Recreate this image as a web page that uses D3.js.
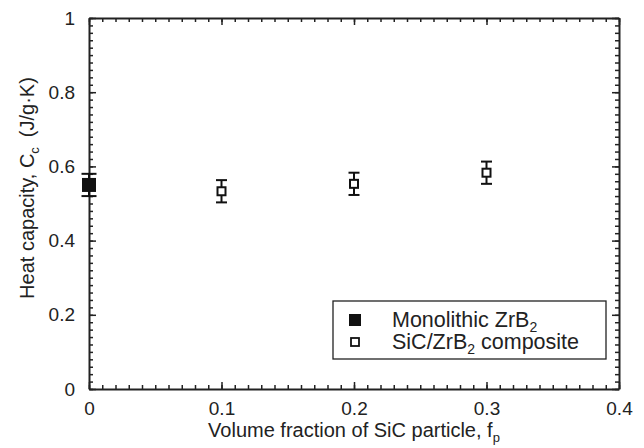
<!DOCTYPE html>
<html>
<head>
<meta charset="utf-8">
<script src="https://cdn.jsdelivr.net/npm/d3@7"></script>
<style>
  body { margin: 0; background: #fff; }
  text { font-family: "Liberation Sans", Arial, sans-serif; fill: #222; }
</style>
</head>
<body>
<script>
// monolithic ZrB2 at f = 0, composites at 0.1 - 0.3
const monoX = [0]
const monoY = [0.55]
const monoErr = [0.03]

const compX = [0.1, 0.2, 0.3]
const compY = [0.533, 0.553, 0.583]
const compErr = [0.03, 0.03, 0.03]

const xTicks = [0, 0.1, 0.2, 0.3, 0.4]
const yTicks = [0, 0.2, 0.4, 0.6, 0.8, 1]
const legendLabels = ['Monolithic ZrB', 'SiC/ZrB']

const width = 644, height = 448
const margin = {top: 18, right: 25, bottom: 59, left: 89}

const svg = d3.select('body').append('svg')
  .attr('width', width)
  .attr('height', height)

const x = d3.scaleLinear().domain([0, 0.4]).range([margin.left, width - margin.right])
const y = d3.scaleLinear().domain([0, 1]).range([height - margin.bottom, margin.top])

const fmt = d => d === 0 ? '0' : d === 1 ? '1' : d3.format('.1f')(d)

// inward ticks on all four sides
function drawAxis(axis, tx, ty, minor, major, labels) {
  const gMinor = svg.append('g').attr('transform', `translate(${tx},${ty})`)
    .call(axis.tickValues(minor).tickSizeInner(-4).tickSizeOuter(0).tickFormat(''))
  gMinor.select('.domain').remove()
  const g = svg.append('g').attr('transform', `translate(${tx},${ty})`)
    .call(axis.tickValues(major).tickSizeInner(-7).tickSizeOuter(0).tickFormat(labels ? fmt : ''))
  g.selectAll('line').attr('stroke', '#222').attr('stroke-width', 1.5)
  gMinor.selectAll('line').attr('stroke', '#222').attr('stroke-width', 1.5)
  g.select('.domain').attr('stroke', '#222').attr('stroke-width', 2)
  g.selectAll('text').style('font-size', '19px')
  return g
}

const xMinor = d3.range(0, 41).map(d => d / 100)
const yMinor = d3.range(0, 51).map(d => d / 50)

const gx = drawAxis(d3.axisBottom(x), 0, y(0), xMinor, xTicks, true)
gx.selectAll('text').attr('y', 13).attr('dy', '0.71em')
drawAxis(d3.axisTop(x), 0, y(1), xMinor, xTicks, false)
const gy = drawAxis(d3.axisLeft(y), x(0), 0, yMinor, yTicks, true)
gy.selectAll('text').attr('x', -14)
drawAxis(d3.axisRight(y), x(0.4), 0, yMinor, yTicks, false)

// axis titles
const xt = svg.append('text')
  .attr('x', (x(0) + x(0.4)) / 2)
  .attr('y', 437)
  .attr('text-anchor', 'middle')
  .style('font-size', '20px')
xt.append('tspan').text('Volume fraction of SiC particle, f')
xt.append('tspan').text('p').attr('dy', 5).style('font-size', '13px')

const yt = svg.append('text')
  .attr('transform', `translate(34,188) rotate(-90)`)
  .attr('text-anchor', 'middle')
  .style('font-size', '20px')
yt.append('tspan').text('Heat capacity, C')
yt.append('tspan').text('c').attr('dy', 5).style('font-size', '13px')
yt.append('tspan').text('\u2002(J/g\u00b7K)').attr('dy', -5)

// error bars
function errorBars(xs, ys, es, cap) {
  const data = xs.map((d, i) => ({x: d, y: ys[i], e: es[i]}))
  const g = svg.append('g').attr('stroke', '#111').attr('stroke-width', 2)
  g.selectAll('line.v').data(data).enter().append('line')
    .attr('x1', d => x(d.x)).attr('x2', d => x(d.x))
    .attr('y1', d => y(d.y - d.e)).attr('y2', d => y(d.y + d.e))
  g.selectAll('line.top').data(data).enter().append('line')
    .attr('x1', d => x(d.x) - cap / 2).attr('x2', d => x(d.x) + cap / 2)
    .attr('y1', d => y(d.y + d.e)).attr('y2', d => y(d.y + d.e))
  g.selectAll('line.bot').data(data).enter().append('line')
    .attr('x1', d => x(d.x) - cap / 2).attr('x2', d => x(d.x) + cap / 2)
    .attr('y1', d => y(d.y - d.e)).attr('y2', d => y(d.y - d.e))
  return data
}

const monoData = errorBars(monoX, monoY, monoErr, 15)
const compData = errorBars(compX, compY, compErr, 11)

svg.selectAll('rect.mono').data(monoData).enter().append('rect')
  .attr('x', d => x(d.x) - 7).attr('y', d => y(d.y) - 7)
  .attr('width', 14).attr('height', 14)
  .attr('fill', '#111')

svg.selectAll('rect.comp').data(compData).enter().append('rect')
  .attr('x', d => x(d.x) - 4).attr('y', d => y(d.y) - 4)
  .attr('width', 8).attr('height', 8)
  .attr('fill', '#fff').attr('stroke', '#111').attr('stroke-width', 2)

// legend
const lg = svg.append('g')
lg.append('rect')
  .attr('x', 333).attr('y', 301).attr('width', 273).attr('height', 58)
  .attr('fill', '#fff').attr('stroke', '#222').attr('stroke-width', 1.3)

lg.append('rect').attr('x', 349).attr('y', 314).attr('width', 12).attr('height', 12).attr('fill', '#111')
lg.append('rect').attr('x', 351).attr('y', 338).attr('width', 8).attr('height', 8)
  .attr('fill', '#fff').attr('stroke', '#111').attr('stroke-width', 1.8)

const l1 = lg.append('text').attr('x', 392).attr('y', 327).style('font-size', '21.5px')
l1.append('tspan').text(legendLabels[0])
l1.append('tspan').text('2').attr('dy', 5).style('font-size', '14px')

const l2 = lg.append('text').attr('x', 392).attr('y', 349).style('font-size', '21.5px')
l2.append('tspan').text(legendLabels[1])
l2.append('tspan').text('2').attr('dy', 5).style('font-size', '14px')
l2.append('tspan').text(' composite').attr('dy', -5)
</script>
</body>
</html>
